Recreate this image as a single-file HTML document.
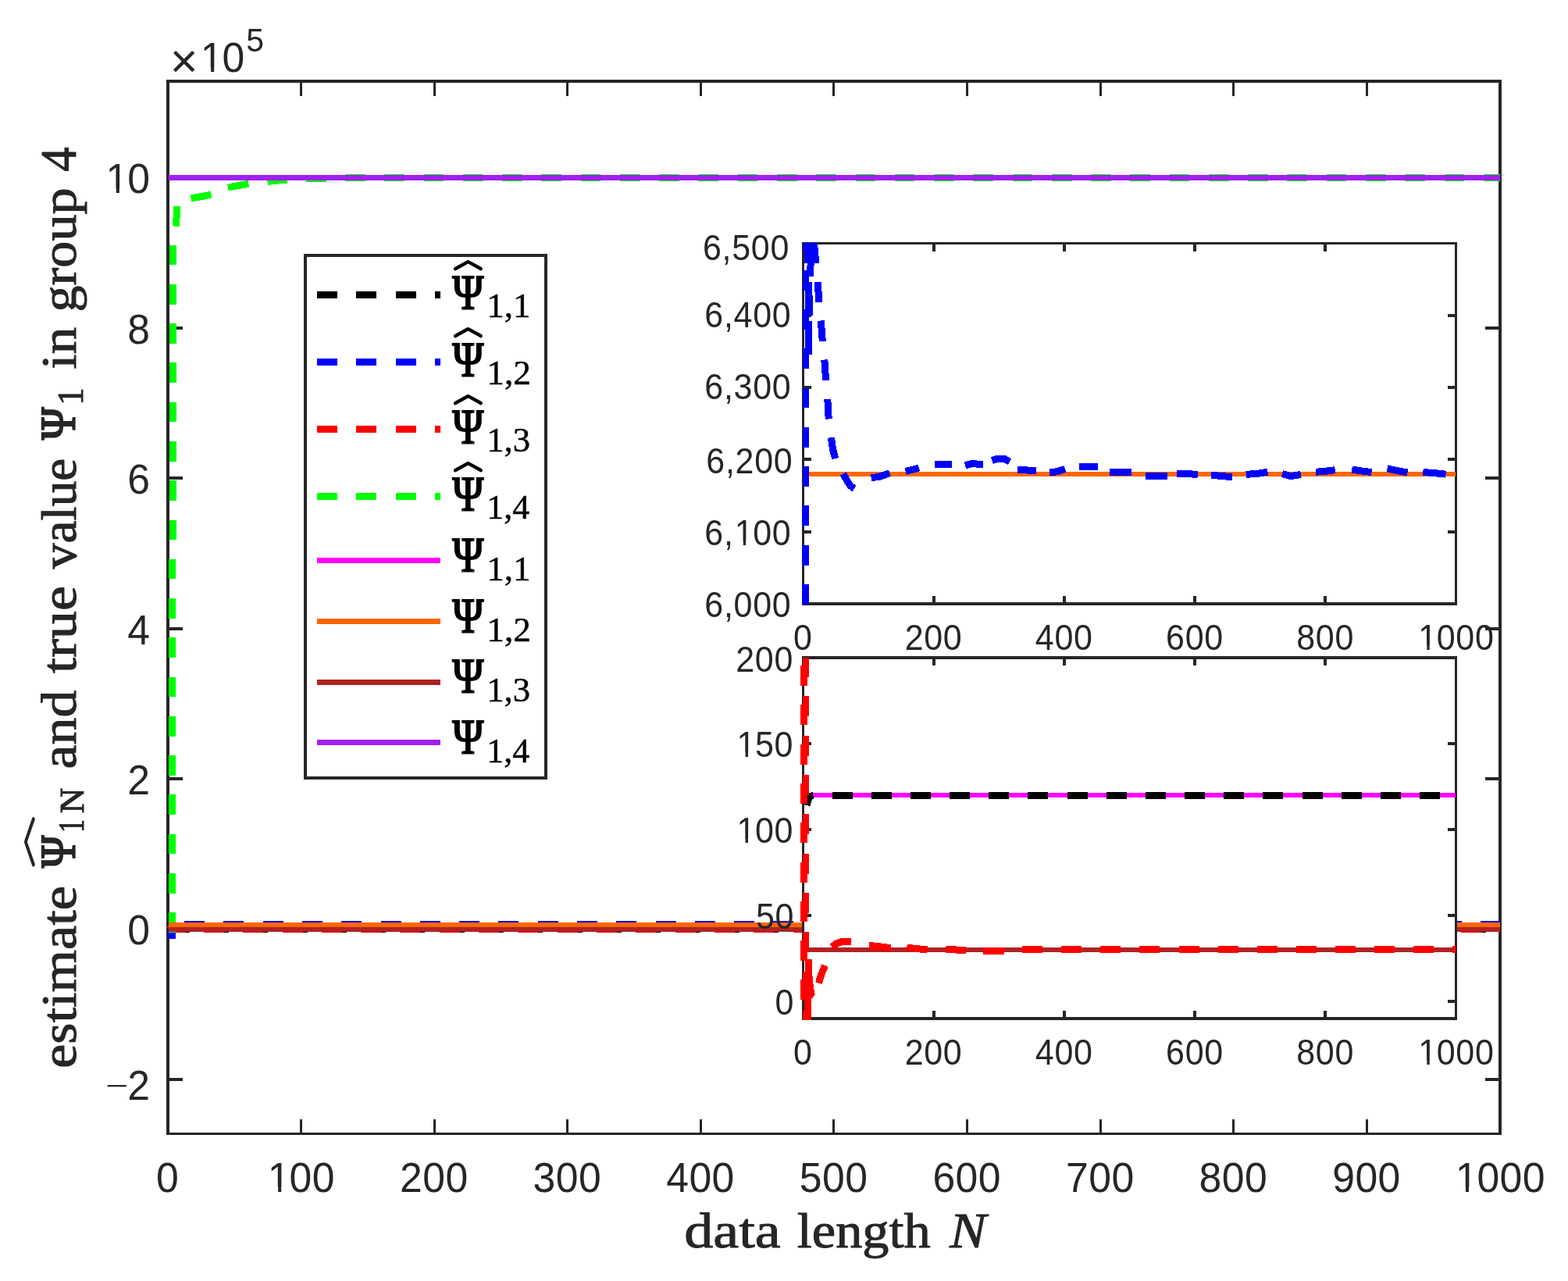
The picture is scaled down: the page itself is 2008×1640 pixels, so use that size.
<!DOCTYPE html>
<html lang="en">
<head>
<meta charset="utf-8">
<title>estimate and true value in group 4</title>
<style>
html,body{margin:0;padding:0;background:#fff;}
body{width:2008px;height:1640px;overflow:hidden;}
svg{display:block;}
</style>
</head>
<body>
<svg width="2008" height="1640" viewBox="0 0 2008 1640" role="img" aria-label="Estimates and true values of Psi 1 in group 4 versus data length N">
<rect x="0" y="0" width="2008" height="1640" fill="#fff"/>
<g shape-rendering="crispEdges">
<g id="main-axes">
<rect x="213" y="102" width="1710" height="4" fill="#262626"/>
<rect x="213" y="1450" width="1710" height="3" fill="#262626"/>
<rect x="213" y="102" width="4" height="1351" fill="#262626"/>
<rect x="1919" y="102" width="4" height="1351" fill="#262626"/>
<rect x="384" y="106" width="3" height="17" fill="#262626"/>
<rect x="384" y="1433" width="3" height="17" fill="#262626"/>
<rect x="555" y="106" width="3" height="17" fill="#262626"/>
<rect x="555" y="1433" width="3" height="17" fill="#262626"/>
<rect x="725" y="106" width="3" height="17" fill="#262626"/>
<rect x="725" y="1433" width="3" height="17" fill="#262626"/>
<rect x="896" y="106" width="3" height="17" fill="#262626"/>
<rect x="896" y="1433" width="3" height="17" fill="#262626"/>
<rect x="1066" y="106" width="3" height="17" fill="#262626"/>
<rect x="1066" y="1433" width="3" height="17" fill="#262626"/>
<rect x="1237" y="106" width="3" height="17" fill="#262626"/>
<rect x="1237" y="1433" width="3" height="17" fill="#262626"/>
<rect x="1408" y="106" width="3" height="17" fill="#262626"/>
<rect x="1408" y="1433" width="3" height="17" fill="#262626"/>
<rect x="1578" y="106" width="3" height="17" fill="#262626"/>
<rect x="1578" y="1433" width="3" height="17" fill="#262626"/>
<rect x="1749" y="106" width="3" height="17" fill="#262626"/>
<rect x="1749" y="1433" width="3" height="17" fill="#262626"/>
<rect x="217" y="1380" width="17" height="4" fill="#262626"/>
<rect x="1902" y="1380" width="17" height="4" fill="#262626"/>
<rect x="217" y="1188" width="17" height="4" fill="#262626"/>
<rect x="1902" y="1188" width="17" height="4" fill="#262626"/>
<rect x="217" y="995" width="17" height="4" fill="#262626"/>
<rect x="1902" y="995" width="17" height="4" fill="#262626"/>
<rect x="217" y="803" width="17" height="4" fill="#262626"/>
<rect x="1902" y="803" width="17" height="4" fill="#262626"/>
<rect x="217" y="610" width="17" height="4" fill="#262626"/>
<rect x="1902" y="610" width="17" height="4" fill="#262626"/>
<rect x="217" y="418" width="17" height="4" fill="#262626"/>
<rect x="1902" y="418" width="17" height="4" fill="#262626"/>
<rect x="217" y="226" width="17" height="4" fill="#262626"/>
<rect x="1902" y="226" width="17" height="4" fill="#262626"/>
</g>
<g id="main-data">
<rect x="222" y="1185" width="21" height="9" fill="#000"/>
<rect x="267" y="1185" width="26" height="9" fill="#000"/>
<rect x="317" y="1185" width="26" height="9" fill="#000"/>
<rect x="368" y="1185" width="26" height="9" fill="#000"/>
<rect x="418" y="1185" width="26" height="9" fill="#000"/>
<rect x="468" y="1185" width="26" height="9" fill="#000"/>
<rect x="518" y="1185" width="26" height="9" fill="#000"/>
<rect x="569" y="1185" width="26" height="9" fill="#000"/>
<rect x="619" y="1185" width="26" height="9" fill="#000"/>
<rect x="669" y="1185" width="26" height="9" fill="#000"/>
<rect x="720" y="1185" width="26" height="9" fill="#000"/>
<rect x="770" y="1185" width="26" height="9" fill="#000"/>
<rect x="820" y="1185" width="26" height="9" fill="#000"/>
<rect x="871" y="1185" width="26" height="9" fill="#000"/>
<rect x="921" y="1185" width="26" height="9" fill="#000"/>
<rect x="971" y="1185" width="26" height="9" fill="#000"/>
<rect x="1022" y="1185" width="26" height="9" fill="#000"/>
<rect x="1072" y="1185" width="26" height="9" fill="#000"/>
<rect x="1122" y="1185" width="26" height="9" fill="#000"/>
<rect x="1172" y="1185" width="26" height="9" fill="#000"/>
<rect x="1223" y="1185" width="26" height="9" fill="#000"/>
<rect x="1273" y="1185" width="26" height="9" fill="#000"/>
<rect x="1323" y="1185" width="26" height="9" fill="#000"/>
<rect x="1374" y="1185" width="26" height="9" fill="#000"/>
<rect x="1424" y="1185" width="26" height="9" fill="#000"/>
<rect x="1474" y="1185" width="26" height="9" fill="#000"/>
<rect x="1524" y="1185" width="26" height="9" fill="#000"/>
<rect x="1575" y="1185" width="26" height="9" fill="#000"/>
<rect x="1625" y="1185" width="26" height="9" fill="#000"/>
<rect x="1675" y="1185" width="26" height="9" fill="#000"/>
<rect x="1726" y="1185" width="26" height="9" fill="#000"/>
<rect x="1776" y="1185" width="26" height="9" fill="#000"/>
<rect x="1826" y="1185" width="26" height="9" fill="#000"/>
<rect x="1877" y="1185" width="26" height="9" fill="#000"/>
<rect x="222" y="1185" width="15" height="9" fill="#f00"/>
<rect x="261" y="1185" width="26" height="9" fill="#f00"/>
<rect x="311" y="1185" width="26" height="9" fill="#f00"/>
<rect x="362" y="1185" width="26" height="9" fill="#f00"/>
<rect x="412" y="1185" width="26" height="9" fill="#f00"/>
<rect x="462" y="1185" width="26" height="9" fill="#f00"/>
<rect x="512" y="1185" width="26" height="9" fill="#f00"/>
<rect x="563" y="1185" width="26" height="9" fill="#f00"/>
<rect x="613" y="1185" width="26" height="9" fill="#f00"/>
<rect x="663" y="1185" width="26" height="9" fill="#f00"/>
<rect x="714" y="1185" width="26" height="9" fill="#f00"/>
<rect x="764" y="1185" width="26" height="9" fill="#f00"/>
<rect x="814" y="1185" width="26" height="9" fill="#f00"/>
<rect x="865" y="1185" width="26" height="9" fill="#f00"/>
<rect x="915" y="1185" width="26" height="9" fill="#f00"/>
<rect x="965" y="1185" width="26" height="9" fill="#f00"/>
<rect x="1016" y="1185" width="26" height="9" fill="#f00"/>
<rect x="1066" y="1185" width="26" height="9" fill="#f00"/>
<rect x="1116" y="1185" width="26" height="9" fill="#f00"/>
<rect x="1166" y="1185" width="26" height="9" fill="#f00"/>
<rect x="1217" y="1185" width="26" height="9" fill="#f00"/>
<rect x="1267" y="1185" width="26" height="9" fill="#f00"/>
<rect x="1317" y="1185" width="26" height="9" fill="#f00"/>
<rect x="1368" y="1185" width="26" height="9" fill="#f00"/>
<rect x="1418" y="1185" width="26" height="9" fill="#f00"/>
<rect x="1468" y="1185" width="26" height="9" fill="#f00"/>
<rect x="1518" y="1185" width="26" height="9" fill="#f00"/>
<rect x="1569" y="1185" width="26" height="9" fill="#f00"/>
<rect x="1619" y="1185" width="26" height="9" fill="#f00"/>
<rect x="1669" y="1185" width="26" height="9" fill="#f00"/>
<rect x="1720" y="1185" width="26" height="9" fill="#f00"/>
<rect x="1770" y="1185" width="26" height="9" fill="#f00"/>
<rect x="1820" y="1185" width="26" height="9" fill="#f00"/>
<rect x="1871" y="1185" width="26" height="9" fill="#f00"/>
<rect x="1921" y="1185" width="0" height="9" fill="#f00"/>
<rect x="236" y="1179" width="26" height="9" fill="#00f"/>
<rect x="286" y="1179" width="26" height="9" fill="#00f"/>
<rect x="337" y="1179" width="26" height="9" fill="#00f"/>
<rect x="387" y="1179" width="26" height="9" fill="#00f"/>
<rect x="437" y="1179" width="26" height="9" fill="#00f"/>
<rect x="488" y="1179" width="26" height="9" fill="#00f"/>
<rect x="538" y="1179" width="26" height="9" fill="#00f"/>
<rect x="588" y="1179" width="26" height="9" fill="#00f"/>
<rect x="638" y="1179" width="26" height="9" fill="#00f"/>
<rect x="689" y="1179" width="26" height="9" fill="#00f"/>
<rect x="739" y="1179" width="26" height="9" fill="#00f"/>
<rect x="789" y="1179" width="26" height="9" fill="#00f"/>
<rect x="840" y="1179" width="26" height="9" fill="#00f"/>
<rect x="890" y="1179" width="26" height="9" fill="#00f"/>
<rect x="940" y="1179" width="26" height="9" fill="#00f"/>
<rect x="990" y="1179" width="26" height="9" fill="#00f"/>
<rect x="1041" y="1179" width="26" height="9" fill="#00f"/>
<rect x="1091" y="1179" width="26" height="9" fill="#00f"/>
<rect x="1141" y="1179" width="26" height="9" fill="#00f"/>
<rect x="1192" y="1179" width="26" height="9" fill="#00f"/>
<rect x="1242" y="1179" width="26" height="9" fill="#00f"/>
<rect x="1292" y="1179" width="26" height="9" fill="#00f"/>
<rect x="1343" y="1179" width="26" height="9" fill="#00f"/>
<rect x="1393" y="1179" width="26" height="9" fill="#00f"/>
<rect x="1443" y="1179" width="26" height="9" fill="#00f"/>
<rect x="1494" y="1179" width="26" height="9" fill="#00f"/>
<rect x="1544" y="1179" width="26" height="9" fill="#00f"/>
<rect x="1594" y="1179" width="26" height="9" fill="#00f"/>
<rect x="1644" y="1179" width="26" height="9" fill="#00f"/>
<rect x="1695" y="1179" width="26" height="9" fill="#00f"/>
<rect x="1745" y="1179" width="26" height="9" fill="#00f"/>
<rect x="1795" y="1179" width="26" height="9" fill="#00f"/>
<rect x="1846" y="1179" width="26" height="9" fill="#00f"/>
<rect x="1896" y="1179" width="25" height="9" fill="#00f"/>
<rect x="216" y="1194" width="9" height="8" fill="#00f"/>
<rect x="215" y="1190" width="2" height="10" fill="#00f"/>
<rect x="217" y="1193" width="5" height="1" fill="#0f0"/>
<path d="M213 1187L216 1184V1190Z" fill="#f00"/>
<rect x="216" y="1168" width="9" height="26" fill="#0f0"/>
<rect x="216" y="1118" width="9" height="26" fill="#0f0"/>
<rect x="216" y="1068" width="9" height="25" fill="#0f0"/>
<rect x="216" y="1017" width="9" height="26" fill="#0f0"/>
<rect x="216" y="967" width="9" height="26" fill="#0f0"/>
<rect x="216" y="917" width="9" height="26" fill="#0f0"/>
<rect x="216" y="867" width="9" height="25" fill="#0f0"/>
<rect x="216" y="816" width="9" height="26" fill="#0f0"/>
<rect x="216" y="766" width="9" height="26" fill="#0f0"/>
<rect x="216" y="716" width="9" height="25" fill="#0f0"/>
<rect x="217" y="666" width="9" height="25" fill="#0f0"/>
<rect x="217" y="615" width="9" height="26" fill="#0f0"/>
<rect x="217" y="565" width="9" height="26" fill="#0f0"/>
<rect x="217" y="515" width="9" height="25" fill="#0f0"/>
<rect x="217" y="464" width="9" height="26" fill="#0f0"/>
<rect x="217" y="414" width="9" height="26" fill="#0f0"/>
<rect x="217" y="364" width="9" height="26" fill="#0f0"/>
<rect x="217" y="314" width="9" height="25" fill="#0f0"/>
</g>
</g>
<g id="main-green-curve" shape-rendering="crispEdges">
<path d="M225.6 289.6L226.6 264.1" stroke="#0f0" stroke-width="9" fill="none" stroke-linejoin="round"/>
<path d="M244.5 253.8L257.0 251.8L270.5 249.2" stroke="#0f0" stroke-width="9" fill="none" stroke-linejoin="round"/>
<path d="M292.0 240.2L305.0 237.6L318.4 235.3" stroke="#0f0" stroke-width="9" fill="none" stroke-linejoin="round"/>
<path d="M342.5 232.4L355.0 231.2L368.0 230.1" stroke="#0f0" stroke-width="9" fill="none" stroke-linejoin="round"/>
<path d="M392.3 228.4L417.8 228.0" stroke="#0f0" stroke-width="9" fill="none" stroke-linejoin="round"/>
<rect x="442" y="223" width="26" height="9" fill="#0f0"/>
<rect x="492" y="223" width="26" height="9" fill="#0f0"/>
<rect x="543" y="223" width="25" height="9" fill="#0f0"/>
<rect x="593" y="223" width="26" height="9" fill="#0f0"/>
<rect x="643" y="223" width="26" height="9" fill="#0f0"/>
<rect x="693" y="223" width="26" height="9" fill="#0f0"/>
<rect x="744" y="223" width="25" height="9" fill="#0f0"/>
<rect x="794" y="223" width="26" height="9" fill="#0f0"/>
<rect x="844" y="223" width="26" height="9" fill="#0f0"/>
<rect x="894" y="223" width="26" height="9" fill="#0f0"/>
<rect x="945" y="223" width="25" height="9" fill="#0f0"/>
<rect x="995" y="223" width="26" height="9" fill="#0f0"/>
<rect x="1045" y="223" width="26" height="9" fill="#0f0"/>
<rect x="1096" y="223" width="25" height="9" fill="#0f0"/>
<rect x="1146" y="223" width="25" height="9" fill="#0f0"/>
<rect x="1196" y="223" width="26" height="9" fill="#0f0"/>
<rect x="1246" y="223" width="26" height="9" fill="#0f0"/>
<rect x="1297" y="223" width="25" height="9" fill="#0f0"/>
<rect x="1347" y="223" width="26" height="9" fill="#0f0"/>
<rect x="1397" y="223" width="26" height="9" fill="#0f0"/>
<rect x="1447" y="223" width="26" height="9" fill="#0f0"/>
<rect x="1498" y="223" width="25" height="9" fill="#0f0"/>
<rect x="1548" y="223" width="26" height="9" fill="#0f0"/>
<rect x="1598" y="223" width="26" height="9" fill="#0f0"/>
<rect x="1648" y="223" width="26" height="9" fill="#0f0"/>
<rect x="1699" y="223" width="25" height="9" fill="#0f0"/>
<rect x="1749" y="223" width="26" height="9" fill="#0f0"/>
<rect x="1799" y="223" width="26" height="9" fill="#0f0"/>
<rect x="1850" y="223" width="25" height="9" fill="#0f0"/>
<rect x="1900" y="223" width="21" height="9" fill="#0f0"/>
<rect x="216" y="1186" width="1705" height="7" fill="#f0f"/>
<rect x="216" y="1181" width="1705" height="6" fill="#ff6600"/>
<rect x="216" y="1187" width="1705" height="6" fill="#b22222"/>
<rect x="216" y="224" width="1705" height="7" fill="#a020f0"/>
</g>
<g id="main-ticklabels" font-family="'Liberation Sans','DejaVu Sans',sans-serif" font-size="52.5" fill="#262626">
<text transform="translate(200.02 1525.50) scale(0.985 1.02)" font-size="52.5" letter-spacing="0.45">0</text>
<clipPath id="k1"><path clip-rule="evenodd" d="M-900 -900H2900V900H-900ZM3.57 -5.78H14.94V1.57H3.57ZM19.08 -5.78H29.82V1.57H19.08Z"/></clipPath>
<text transform="translate(341.42 1525.50) scale(0.985 1.02)" font-size="52.5" letter-spacing="0.45" clip-path="url(#k1)"><tspan dx="1.47">1</tspan><tspan dx="-1.47">0</tspan>0</text>
<text transform="translate(512.02 1525.50) scale(0.985 1.02)" font-size="52.5" letter-spacing="0.45">200</text>
<text transform="translate(682.62 1525.50) scale(0.985 1.02)" font-size="52.5" letter-spacing="0.45">300</text>
<text transform="translate(853.22 1525.50) scale(0.985 1.02)" font-size="52.5" letter-spacing="0.45">400</text>
<text transform="translate(1023.82 1525.50) scale(0.985 1.02)" font-size="52.5" letter-spacing="0.45">500</text>
<text transform="translate(1194.42 1525.50) scale(0.985 1.02)" font-size="52.5" letter-spacing="0.45">600</text>
<text transform="translate(1365.02 1525.50) scale(0.985 1.02)" font-size="52.5" letter-spacing="0.45">700</text>
<text transform="translate(1535.62 1525.50) scale(0.985 1.02)" font-size="52.5" letter-spacing="0.45">800</text>
<text transform="translate(1706.22 1525.50) scale(0.985 1.02)" font-size="52.5" letter-spacing="0.45">900</text>
<clipPath id="k2"><path clip-rule="evenodd" d="M-900 -900H2900V900H-900ZM3.57 -5.78H14.94V1.57H3.57ZM19.08 -5.78H29.82V1.57H19.08Z"/></clipPath>
<text transform="translate(1862.21 1525.50) scale(0.985 1.02)" font-size="52.5" letter-spacing="0.45" clip-path="url(#k2)"><tspan dx="1.47">1</tspan><tspan dx="-1.47">0</tspan>00</text>
<text transform="translate(163.24 1209.30) scale(0.985 1.02)" font-size="52.5" letter-spacing="0.45">0</text>
<text transform="translate(163.24 1016.90) scale(0.985 1.02)" font-size="52.5" letter-spacing="0.45">2</text>
<text transform="translate(163.24 824.50) scale(0.985 1.02)" font-size="52.5" letter-spacing="0.45">4</text>
<text transform="translate(163.24 632.10) scale(0.985 1.02)" font-size="52.5" letter-spacing="0.45">6</text>
<text transform="translate(163.24 439.70) scale(0.985 1.02)" font-size="52.5" letter-spacing="0.45">8</text>
<clipPath id="k3"><path clip-rule="evenodd" d="M-900 -900H2900V900H-900ZM3.57 -5.78H14.94V1.57H3.57ZM19.08 -5.78H29.82V1.57H19.08Z"/></clipPath>
<text transform="translate(134.04 247.30) scale(0.985 1.02)" font-size="52.5" letter-spacing="0.45" clip-path="url(#k3)"><tspan dx="1.47">1</tspan><tspan dx="-1.47">0</tspan></text>
<text transform="translate(163.24 1408.20) scale(0.985 1.02)" font-size="52.5" letter-spacing="0.45">2</text>
<text transform="translate(135.54 1400.71) scale(0.9451 0.6133)" font-family="'Liberation Sans','DejaVu Sans',sans-serif" font-size="52.5">−</text>
<text transform="translate(217.63 98.80) scale(1.0037 1.0000)" font-family="'Liberation Sans','DejaVu Sans',sans-serif" font-size="61">×</text>
<clipPath id="k4"><path clip-rule="evenodd" d="M-900 -900H2900V900H-900ZM3.57 -5.78H14.94V1.57H3.57ZM19.08 -5.78H29.82V1.57H19.08Z"/></clipPath>
<text transform="translate(255.40 91.60) scale(0.985 1.02)" font-size="52.5" letter-spacing="0.45" clip-path="url(#k4)"><tspan dx="1.47">1</tspan><tspan dx="-1.47">0</tspan></text>
<text transform="translate(315.29 66.49) scale(0.9772 1.0203)" font-family="'Liberation Sans','DejaVu Sans',sans-serif" font-size="42">5</text>
</g>
<g id="xlabel" fill="#262626" stroke="#262626" stroke-width="1.0" stroke-linejoin="round">
<text transform="translate(876.19 1596.90) scale(1.1585 1.0000)" font-family="'Liberation Serif','DejaVu Serif',serif" font-size="64">data</text>
<text transform="translate(1020.76 1596.90) scale(1.0696 1.0000)" font-family="'Liberation Serif','DejaVu Serif',serif" font-size="64">length</text>
<text transform="translate(1216.15 1596.90) scale(1.0941 1.0000)" font-family="'Liberation Serif','DejaVu Serif',serif" font-size="64" font-style="italic">N</text>
</g>
<g id="ylabel" fill="#262626" stroke="#262626" stroke-width="1.0" stroke-linejoin="round">
<text transform="translate(96.70 1367.74) rotate(-90) scale(1.0954 1.0000)" font-family="'Liberation Serif','DejaVu Serif',serif" font-size="64">estimate</text>
<text transform="translate(95.90 1111.01) rotate(-90) scale(0.8435 0.9618)" font-family="'Liberation Serif','DejaVu Serif',serif" font-size="66" stroke-width="2.4" stroke-linejoin="miter">Ψ</text>
<text transform="translate(106.60 1065.98) rotate(-90) scale(0.7446 0.9869)" font-family="'Liberation Serif','DejaVu Serif',serif" font-size="46">1</text>
<text transform="translate(106.60 1041.13) rotate(-90) scale(0.9839 0.9785)" font-family="'Liberation Serif','DejaVu Serif',serif" font-size="46">N</text>
<text transform="translate(96.70 984.45) rotate(-90) scale(1.0905 1.0000)" font-family="'Liberation Serif','DejaVu Serif',serif" font-size="64">and</text>
<text transform="translate(96.70 862.04) rotate(-90) scale(1.1244 1.0000)" font-family="'Liberation Serif','DejaVu Serif',serif" font-size="64">true</text>
<text transform="translate(96.70 728.30) rotate(-90) scale(1.0224 1.0000)" font-family="'Liberation Serif','DejaVu Serif',serif" font-size="64">value</text>
<text transform="translate(95.90 563.11) rotate(-90) scale(0.8477 0.9642)" font-family="'Liberation Serif','DejaVu Serif',serif" font-size="66" stroke-width="2.4" stroke-linejoin="miter">Ψ</text>
<text transform="translate(106.20 518.69) rotate(-90) scale(0.9723 0.9869)" font-family="'Liberation Serif','DejaVu Serif',serif" font-size="46">1</text>
<text transform="translate(96.70 472.86) rotate(-90) scale(1.0884 1.0000)" font-family="'Liberation Serif','DejaVu Serif',serif" font-size="64">in</text>
<text transform="translate(96.70 399.53) rotate(-90) scale(1.0667 1.0000)" font-family="'Liberation Serif','DejaVu Serif',serif" font-size="64">group</text>
<text transform="translate(96.70 219.73) rotate(-90) scale(0.9815 1.0083)" font-family="'Liberation Serif','DejaVu Serif',serif" font-size="64">4</text>
</g>
<text transform="translate(45.89 1111.95) rotate(-90) scale(0.7446 0.5051)" font-family="'WenQuanYi Zen Hei','Noto Sans CJK SC','Noto Sans CJK JP',sans-serif" font-size="100" fill="#262626" stroke="#262626" stroke-width="2.56" stroke-linejoin="miter">︿</text>
<g id="legend">
<g shape-rendering="crispEdges">
<rect x="389" y="325" width="312" height="673" fill="#262626"/>
<rect x="393" y="329" width="304" height="665" fill="#fff"/>
<rect x="406" y="373" width="26" height="9" fill="#000"/>
<rect x="456" y="373" width="26" height="9" fill="#000"/>
<rect x="507" y="373" width="26" height="9" fill="#000"/>
<rect x="557" y="373" width="7" height="9" fill="#000"/>
<rect x="406" y="459" width="26" height="9" fill="#00f"/>
<rect x="456" y="459" width="26" height="9" fill="#00f"/>
<rect x="507" y="459" width="26" height="9" fill="#00f"/>
<rect x="557" y="459" width="7" height="9" fill="#00f"/>
<rect x="406" y="545" width="26" height="9" fill="#f00"/>
<rect x="456" y="545" width="26" height="9" fill="#f00"/>
<rect x="507" y="545" width="26" height="9" fill="#f00"/>
<rect x="557" y="545" width="7" height="9" fill="#f00"/>
<rect x="406" y="631" width="26" height="9" fill="#0f0"/>
<rect x="456" y="631" width="26" height="9" fill="#0f0"/>
<rect x="507" y="631" width="26" height="9" fill="#0f0"/>
<rect x="557" y="631" width="7" height="9" fill="#0f0"/>
<rect x="406" y="714" width="158" height="7" fill="#f0f"/>
<rect x="406" y="792" width="158" height="7" fill="#ff6600"/>
<rect x="406" y="869.5" width="158" height="7" fill="#b22222"/>
<rect x="406" y="947" width="158" height="7" fill="#a020f0"/>
</g>
<g fill="#000">
<text transform="translate(579.59 395.90) scale(0.7904 0.9180)" font-family="'Liberation Serif','DejaVu Serif',serif" font-size="68" stroke="#000" stroke-width="2.4" stroke-linejoin="miter">Ψ</text>
<text transform="translate(623.23 405.90) scale(0.9795 0.9854)" font-family="'Liberation Serif','DejaVu Serif',serif" font-size="46" stroke="#000" stroke-width="0.5">1,1</text>
<text transform="translate(580.10 346.90) scale(0.4217 0.4545)" font-family="'WenQuanYi Zen Hei','Noto Sans CJK SC','Noto Sans CJK JP',sans-serif" font-size="100" fill="#000" stroke="#000" stroke-width="5.02" stroke-linejoin="miter">︿</text>
<text transform="translate(579.59 481.90) scale(0.7904 0.9180)" font-family="'Liberation Serif','DejaVu Serif',serif" font-size="68" stroke="#000" stroke-width="2.4" stroke-linejoin="miter">Ψ</text>
<text transform="translate(623.20 491.90) scale(0.9864 0.9854)" font-family="'Liberation Serif','DejaVu Serif',serif" font-size="46" stroke="#000" stroke-width="0.5">1,2</text>
<text transform="translate(580.10 432.90) scale(0.4217 0.4545)" font-family="'WenQuanYi Zen Hei','Noto Sans CJK SC','Noto Sans CJK JP',sans-serif" font-size="100" fill="#000" stroke="#000" stroke-width="5.02" stroke-linejoin="miter">︿</text>
<text transform="translate(579.59 567.90) scale(0.7904 0.9180)" font-family="'Liberation Serif','DejaVu Serif',serif" font-size="68" stroke="#000" stroke-width="2.4" stroke-linejoin="miter">Ψ</text>
<text transform="translate(623.25 577.90) scale(0.9722 0.9854)" font-family="'Liberation Serif','DejaVu Serif',serif" font-size="46" stroke="#000" stroke-width="0.5">1,3</text>
<text transform="translate(580.10 518.90) scale(0.4217 0.4545)" font-family="'WenQuanYi Zen Hei','Noto Sans CJK SC','Noto Sans CJK JP',sans-serif" font-size="100" fill="#000" stroke="#000" stroke-width="5.02" stroke-linejoin="miter">︿</text>
<text transform="translate(579.59 653.90) scale(0.7904 0.9180)" font-family="'Liberation Serif','DejaVu Serif',serif" font-size="68" stroke="#000" stroke-width="2.4" stroke-linejoin="miter">Ψ</text>
<text transform="translate(623.32 663.90) scale(0.9540 0.9854)" font-family="'Liberation Serif','DejaVu Serif',serif" font-size="46" stroke="#000" stroke-width="0.5">1,4</text>
<text transform="translate(580.10 604.90) scale(0.4217 0.4545)" font-family="'WenQuanYi Zen Hei','Noto Sans CJK SC','Noto Sans CJK JP',sans-serif" font-size="100" fill="#000" stroke="#000" stroke-width="5.02" stroke-linejoin="miter">︿</text>
<text transform="translate(579.59 731.80) scale(0.7904 0.9180)" font-family="'Liberation Serif','DejaVu Serif',serif" font-size="68" stroke="#000" stroke-width="2.4" stroke-linejoin="miter">Ψ</text>
<text transform="translate(623.23 742.90) scale(0.9795 0.9854)" font-family="'Liberation Serif','DejaVu Serif',serif" font-size="46" stroke="#000" stroke-width="0.5">1,1</text>
<text transform="translate(579.59 809.80) scale(0.7904 0.9180)" font-family="'Liberation Serif','DejaVu Serif',serif" font-size="68" stroke="#000" stroke-width="2.4" stroke-linejoin="miter">Ψ</text>
<text transform="translate(623.20 820.90) scale(0.9864 0.9854)" font-family="'Liberation Serif','DejaVu Serif',serif" font-size="46" stroke="#000" stroke-width="0.5">1,2</text>
<text transform="translate(579.59 887.30) scale(0.7904 0.9180)" font-family="'Liberation Serif','DejaVu Serif',serif" font-size="68" stroke="#000" stroke-width="2.4" stroke-linejoin="miter">Ψ</text>
<text transform="translate(623.25 898.40) scale(0.9722 0.9854)" font-family="'Liberation Serif','DejaVu Serif',serif" font-size="46" stroke="#000" stroke-width="0.5">1,3</text>
<text transform="translate(579.59 964.80) scale(0.7904 0.9180)" font-family="'Liberation Serif','DejaVu Serif',serif" font-size="68" stroke="#000" stroke-width="2.4" stroke-linejoin="miter">Ψ</text>
<text transform="translate(623.32 975.90) scale(0.9540 0.9854)" font-family="'Liberation Serif','DejaVu Serif',serif" font-size="46" stroke="#000" stroke-width="0.5">1,4</text>
</g>
</g>
<g id="inset1">
<g shape-rendering="crispEdges">
<rect x="1027" y="310" width="839" height="465" fill="#fff"/>
<rect x="1027" y="310" width="839" height="3" fill="#262626"/>
<rect x="1027" y="771" width="839" height="4" fill="#262626"/>
<rect x="1027" y="310" width="3" height="465" fill="#262626"/>
<rect x="1863" y="310" width="3" height="465" fill="#262626"/>
<rect x="1194" y="313" width="4" height="9" fill="#262626"/>
<rect x="1194" y="763" width="4" height="8" fill="#262626"/>
<rect x="1361" y="313" width="4" height="9" fill="#262626"/>
<rect x="1361" y="763" width="4" height="8" fill="#262626"/>
<rect x="1528" y="313" width="4" height="9" fill="#262626"/>
<rect x="1528" y="763" width="4" height="8" fill="#262626"/>
<rect x="1695" y="313" width="4" height="9" fill="#262626"/>
<rect x="1695" y="763" width="4" height="8" fill="#262626"/>
<rect x="1030" y="679" width="9" height="4" fill="#262626"/>
<rect x="1854" y="679" width="9" height="4" fill="#262626"/>
<rect x="1030" y="586" width="9" height="4" fill="#262626"/>
<rect x="1854" y="586" width="9" height="4" fill="#262626"/>
<rect x="1030" y="494" width="9" height="4" fill="#262626"/>
<rect x="1854" y="494" width="9" height="4" fill="#262626"/>
<rect x="1030" y="402" width="9" height="4" fill="#262626"/>
<rect x="1854" y="402" width="9" height="4" fill="#262626"/>
<rect x="1029" y="604" width="835" height="6" fill="#ff6600"/>
<rect x="1028" y="311" width="8" height="10" fill="#00f"/>
<rect x="1028" y="346" width="8" height="26" fill="#00f"/>
<rect x="1028" y="396" width="8" height="26" fill="#00f"/>
<rect x="1028" y="446" width="8" height="26" fill="#00f"/>
<rect x="1028" y="497" width="8" height="25" fill="#00f"/>
<rect x="1028" y="547" width="8" height="26" fill="#00f"/>
<rect x="1028" y="597" width="8" height="26" fill="#00f"/>
<rect x="1027" y="647" width="9" height="26" fill="#00f"/>
<rect x="1027" y="698" width="9" height="26" fill="#00f"/>
<rect x="1027" y="748" width="9" height="26" fill="#00f"/>
<rect x="1031" y="361" width="9" height="43" fill="#00f"/>
<rect x="1031" y="411" width="9" height="43" fill="#00f"/>
<rect x="1032" y="378" width="9" height="26" fill="#00f"/>
<rect x="1034" y="337" width="9" height="3" fill="#00f"/>
<rect x="1033" y="340" width="9" height="14" fill="#00f"/>
<rect x="1028" y="311" width="19" height="6" fill="#00f"/>
<rect x="1030" y="317" width="18" height="11" fill="#00f"/>
<rect x="1030" y="328" width="19" height="9" fill="#00f"/>
</g>
<g shape-rendering="crispEdges">
<path d="M1047.3 361.0L1048.8 387.0" stroke="#00f" stroke-width="9" fill="none" stroke-linejoin="round"/>
<path d="M1051.3 410.5L1053.3 437.0" stroke="#00f" stroke-width="9" fill="none" stroke-linejoin="round"/>
<path d="M1055.8 460.5L1057.6 487.0" stroke="#00f" stroke-width="9" fill="none" stroke-linejoin="round"/>
<path d="M1059.8 511.0L1061.2 536.5" stroke="#00f" stroke-width="9" fill="none" stroke-linejoin="round"/>
<path d="M1064.4 560.2L1066.5 575.0L1069.6 587.2" stroke="#00f" stroke-width="9" fill="none" stroke-linejoin="round"/>
<path d="M1079.8 606.5L1085.0 616.0L1089.0 622.0L1094.0 625.6" stroke="#00f" stroke-width="9" fill="none" stroke-linejoin="round"/>
<path d="M1115.6 611.7L1126.0 610.4L1139.5 605.7" stroke="#00f" stroke-width="9" fill="none" stroke-linejoin="round"/>
<path d="M1159.7 603.5L1168.0 601.5L1176.9 599.0" stroke="#00f" stroke-width="9" fill="none" stroke-linejoin="round"/>
<path d="M1197.0 594.8L1218.7 594.8" stroke="#00f" stroke-width="9" fill="none" stroke-linejoin="round"/>
<path d="M1235.9 595.8L1245.0 593.5L1259.0 594.8" stroke="#00f" stroke-width="9" fill="none" stroke-linejoin="round"/>
<path d="M1270.3 589.6L1277.0 587.2L1286.0 587.2L1293.0 591.0" stroke="#00f" stroke-width="9" fill="none" stroke-linejoin="round"/>
<path d="M1303.1 601.8L1327.1 602.2" stroke="#00f" stroke-width="9" fill="none" stroke-linejoin="round"/>
<path d="M1344.1 604.5L1352.0 604.0L1364.0 600.6" stroke="#00f" stroke-width="9" fill="none" stroke-linejoin="round"/>
<path d="M1382.3 598.0L1405.8 597.4" stroke="#00f" stroke-width="9" fill="none" stroke-linejoin="round"/>
<path d="M1421.2 604.4L1448.7 604.8" stroke="#00f" stroke-width="9" fill="none" stroke-linejoin="round"/>
<path d="M1467.0 609.2L1495.0 610.0" stroke="#00f" stroke-width="9" fill="none" stroke-linejoin="round"/>
<path d="M1507.0 606.4L1520.0 606.4L1533.8 607.6" stroke="#00f" stroke-width="9" fill="none" stroke-linejoin="round"/>
<path d="M1551.2 608.4L1565.0 609.4L1578.0 611.0" stroke="#00f" stroke-width="9" fill="none" stroke-linejoin="round"/>
<path d="M1595.7 607.4L1610.0 606.4L1623.6 604.2" stroke="#00f" stroke-width="9" fill="none" stroke-linejoin="round"/>
<path d="M1642.0 606.6L1653.0 609.6L1665.9 607.4" stroke="#00f" stroke-width="9" fill="none" stroke-linejoin="round"/>
<path d="M1685.0 604.2L1697.0 603.4L1709.7 601.6" stroke="#00f" stroke-width="9" fill="none" stroke-linejoin="round"/>
<path d="M1731.2 601.0L1744.0 603.0L1756.6 604.6" stroke="#00f" stroke-width="9" fill="none" stroke-linejoin="round"/>
<path d="M1776.5 599.8L1789.0 602.6L1802.6 605.0" stroke="#00f" stroke-width="9" fill="none" stroke-linejoin="round"/>
<path d="M1822.3 604.5L1837.0 605.6L1851.6 607.2" stroke="#00f" stroke-width="9" fill="none" stroke-linejoin="round"/>
</g>
<g font-family="'Liberation Sans','DejaVu Sans',sans-serif" font-size="45" fill="#262626">
<text transform="translate(1016.05 831.70) scale(0.955 1.03)" font-size="45" letter-spacing="0.75">0</text>
<text transform="translate(1158.63 831.70) scale(0.955 1.03)" font-size="45" letter-spacing="0.75">200</text>
<text transform="translate(1325.83 831.70) scale(0.955 1.03)" font-size="45" letter-spacing="0.75">400</text>
<text transform="translate(1493.03 831.70) scale(0.955 1.03)" font-size="45" letter-spacing="0.75">600</text>
<text transform="translate(1660.23 831.70) scale(0.955 1.03)" font-size="45" letter-spacing="0.75">800</text>
<clipPath id="k5"><path clip-rule="evenodd" d="M-900 -900H2900V900H-900ZM3.06 -4.95H12.80V1.35H3.06ZM16.36 -4.95H25.56V1.35H16.36Z"/></clipPath>
<text transform="translate(1815.12 831.70) scale(0.955 1.03)" font-size="45" letter-spacing="0.75" clip-path="url(#k5)"><tspan dx="1.26">1</tspan><tspan dx="-1.26">0</tspan>00</text>
<text transform="translate(899.99 332.75) scale(0.955 1.03)" font-size="45" letter-spacing="0.75">6,500</text>
<text transform="translate(902.29 418.65) scale(0.955 1.03)" font-size="45" letter-spacing="0.75">6,400</text>
<text transform="translate(902.29 510.70) scale(0.955 1.03)" font-size="45" letter-spacing="0.75">6,300</text>
<text transform="translate(904.29 606.00) scale(0.955 1.03)" font-size="45" letter-spacing="0.75">6,200</text>
<clipPath id="k6"><path clip-rule="evenodd" d="M-900 -900H2900V900H-900ZM42.09 -4.95H51.83V1.35H42.09ZM55.39 -4.95H64.59V1.35H55.39Z"/></clipPath>
<text transform="translate(902.29 698.10) scale(0.955 1.03)" font-size="45" letter-spacing="0.75" clip-path="url(#k6)">6,<tspan dx="1.26">1</tspan><tspan dx="-1.26">0</tspan>0</text>
<text transform="translate(902.29 790.10) scale(0.955 1.03)" font-size="45" letter-spacing="0.75">6,000</text>
</g>
</g>
<g id="inset2">
<g shape-rendering="crispEdges">
<rect x="1027" y="840" width="839" height="466" fill="#fff"/>
<rect x="1027" y="840" width="839" height="4" fill="#262626"/>
<rect x="1027" y="1302" width="839" height="4" fill="#262626"/>
<rect x="1027" y="840" width="3" height="466" fill="#262626"/>
<rect x="1863" y="840" width="3" height="466" fill="#262626"/>
<rect x="1194" y="844" width="4" height="8" fill="#262626"/>
<rect x="1194" y="1294" width="4" height="8" fill="#262626"/>
<rect x="1361" y="844" width="4" height="8" fill="#262626"/>
<rect x="1361" y="1294" width="4" height="8" fill="#262626"/>
<rect x="1528" y="844" width="4" height="8" fill="#262626"/>
<rect x="1528" y="1294" width="4" height="8" fill="#262626"/>
<rect x="1695" y="844" width="4" height="8" fill="#262626"/>
<rect x="1695" y="1294" width="4" height="8" fill="#262626"/>
<rect x="1030" y="1280" width="9" height="4" fill="#262626"/>
<rect x="1854" y="1280" width="9" height="4" fill="#262626"/>
<rect x="1030" y="1170" width="9" height="4" fill="#262626"/>
<rect x="1854" y="1170" width="9" height="4" fill="#262626"/>
<rect x="1030" y="1060" width="9" height="4" fill="#262626"/>
<rect x="1854" y="1060" width="9" height="4" fill="#262626"/>
<rect x="1030" y="950" width="9" height="4" fill="#262626"/>
<rect x="1854" y="950" width="9" height="4" fill="#262626"/>
<rect x="1029" y="1015" width="835" height="6" fill="#f0f"/>
<rect x="1040" y="1014" width="1" height="9" fill="#000"/>
<rect x="1066" y="1014" width="26" height="9" fill="#000"/>
<rect x="1116" y="1014" width="26" height="9" fill="#000"/>
<rect x="1166" y="1014" width="26" height="9" fill="#000"/>
<rect x="1216" y="1014" width="26" height="9" fill="#000"/>
<rect x="1266" y="1014" width="26" height="9" fill="#000"/>
<rect x="1316" y="1014" width="26" height="9" fill="#000"/>
<rect x="1367" y="1014" width="26" height="9" fill="#000"/>
<rect x="1417" y="1014" width="26" height="9" fill="#000"/>
<rect x="1467" y="1014" width="26" height="9" fill="#000"/>
<rect x="1517" y="1014" width="26" height="9" fill="#000"/>
<rect x="1567" y="1014" width="26" height="9" fill="#000"/>
<rect x="1617" y="1014" width="26" height="9" fill="#000"/>
<rect x="1668" y="1014" width="26" height="9" fill="#000"/>
<rect x="1718" y="1014" width="26" height="9" fill="#000"/>
<rect x="1768" y="1014" width="26" height="9" fill="#000"/>
<rect x="1818" y="1014" width="26" height="9" fill="#000"/>
<path d="M1033 1031L1036.5 1019.5L1041.5 1018.5" stroke="#000" stroke-width="9" fill="none"/>
<rect x="1029" y="1213" width="835" height="6" fill="#b22222"/>
<rect x="1309" y="1211" width="26" height="9" fill="#f00"/>
<rect x="1359" y="1211" width="26" height="9" fill="#f00"/>
<rect x="1409" y="1211" width="26" height="9" fill="#f00"/>
<rect x="1459" y="1211" width="26" height="9" fill="#f00"/>
<rect x="1510" y="1211" width="26" height="9" fill="#f00"/>
<rect x="1560" y="1211" width="26" height="9" fill="#f00"/>
<rect x="1610" y="1211" width="26" height="9" fill="#f00"/>
<rect x="1660" y="1211" width="26" height="9" fill="#f00"/>
<rect x="1710" y="1211" width="26" height="9" fill="#f00"/>
<rect x="1760" y="1211" width="26" height="9" fill="#f00"/>
<rect x="1810" y="1211" width="26" height="9" fill="#f00"/>
<rect x="1860" y="1211" width="4" height="9" fill="#f00"/>
</g>
<g shape-rendering="crispEdges">
<path d="M1048.3 1258.5L1052.0 1247.0L1056.6 1236.0" stroke="#f00" stroke-width="9" fill="none" stroke-linejoin="round"/>
<path d="M1065.5 1212.5L1071.0 1208.0L1078.0 1205.7L1090.0 1205.0" stroke="#f00" stroke-width="9" fill="none" stroke-linejoin="round"/>
<path d="M1113.0 1210.4L1126.0 1211.8L1140.5 1213.6" stroke="#f00" stroke-width="9" fill="none" stroke-linejoin="round"/>
<path d="M1161.3 1213.2L1174.0 1214.6L1187.8 1216.0" stroke="#f00" stroke-width="9" fill="none" stroke-linejoin="round"/>
<path d="M1211.0 1215.8L1237.0 1216.2" stroke="#f00" stroke-width="9" fill="none" stroke-linejoin="round"/>
<path d="M1259.2 1217.4L1286.0 1217.6" stroke="#f00" stroke-width="9" fill="none" stroke-linejoin="round"/>
</g>
<g shape-rendering="crispEdges">
<rect x="1025" y="852" width="9" height="26" fill="#f00"/>
<rect x="1025" y="902" width="9" height="26" fill="#f00"/>
<rect x="1025" y="953" width="9" height="26" fill="#f00"/>
<rect x="1025" y="1003" width="9" height="26" fill="#f00"/>
<rect x="1025" y="1053" width="9" height="26" fill="#f00"/>
<rect x="1025" y="1104" width="9" height="26" fill="#f00"/>
<rect x="1025" y="1154" width="9" height="26" fill="#f00"/>
<rect x="1025" y="1204" width="9" height="26" fill="#f00"/>
<rect x="1025" y="1254" width="9" height="26" fill="#f00"/>
<rect x="1028" y="842" width="8" height="25" fill="#f00"/>
<rect x="1028" y="891" width="8" height="26" fill="#f00"/>
<rect x="1028" y="942" width="8" height="26" fill="#f00"/>
<rect x="1028" y="992" width="8" height="26" fill="#f00"/>
<rect x="1028" y="1042" width="8" height="26" fill="#f00"/>
<rect x="1028" y="1093" width="8" height="26" fill="#f00"/>
<rect x="1028" y="1143" width="8" height="26" fill="#f00"/>
<rect x="1028" y="1193" width="8" height="26" fill="#f00"/>
<rect x="1028" y="1244" width="8" height="26" fill="#f00"/>
<rect x="1028" y="1294" width="8" height="12" fill="#f00"/>
<path d="M1031 1228H1040V1250H1041V1260H1042V1267H1043V1272H1044L1040.5 1278H1039V1305.7H1030V1280H1031Z" fill="#f00"/>
</g>
<g font-family="'Liberation Sans','DejaVu Sans',sans-serif" font-size="45" fill="#262626">
<text transform="translate(1016.05 1363.10) scale(0.955 1.03)" font-size="45" letter-spacing="0.75">0</text>
<text transform="translate(1158.63 1363.10) scale(0.955 1.03)" font-size="45" letter-spacing="0.75">200</text>
<text transform="translate(1325.83 1363.10) scale(0.955 1.03)" font-size="45" letter-spacing="0.75">400</text>
<text transform="translate(1493.03 1363.10) scale(0.955 1.03)" font-size="45" letter-spacing="0.75">600</text>
<text transform="translate(1660.23 1363.10) scale(0.955 1.03)" font-size="45" letter-spacing="0.75">800</text>
<clipPath id="k7"><path clip-rule="evenodd" d="M-900 -900H2900V900H-900ZM3.06 -4.95H12.80V1.35H3.06ZM16.36 -4.95H25.56V1.35H16.36Z"/></clipPath>
<text transform="translate(1815.12 1363.10) scale(0.955 1.03)" font-size="45" letter-spacing="0.75" clip-path="url(#k7)"><tspan dx="1.26">1</tspan><tspan dx="-1.26">0</tspan>00</text>
<text transform="translate(942.16 859.90) scale(0.955 1.03)" font-size="45" letter-spacing="0.75">200</text>
<clipPath id="k8"><path clip-rule="evenodd" d="M-900 -900H2900V900H-900ZM3.06 -4.95H12.80V1.35H3.06ZM16.36 -4.95H25.56V1.35H16.36Z"/></clipPath>
<text transform="translate(942.36 968.70) scale(0.955 1.03)" font-size="45" letter-spacing="0.75" clip-path="url(#k8)"><tspan dx="1.26">1</tspan><tspan dx="-1.26">5</tspan>0</text>
<clipPath id="k9"><path clip-rule="evenodd" d="M-900 -900H2900V900H-900ZM3.06 -4.95H12.80V1.35H3.06ZM16.36 -4.95H25.56V1.35H16.36Z"/></clipPath>
<text transform="translate(942.36 1078.70) scale(0.955 1.03)" font-size="45" letter-spacing="0.75" clip-path="url(#k9)"><tspan dx="1.26">1</tspan><tspan dx="-1.26">0</tspan>0</text>
<text transform="translate(967.98 1188.50) scale(0.955 1.03)" font-size="45" letter-spacing="0.75">50</text>
<text transform="translate(992.60 1298.90) scale(0.955 1.03)" font-size="45" letter-spacing="0.75">0</text>
</g>
</g>
</svg>
</body>
</html>
